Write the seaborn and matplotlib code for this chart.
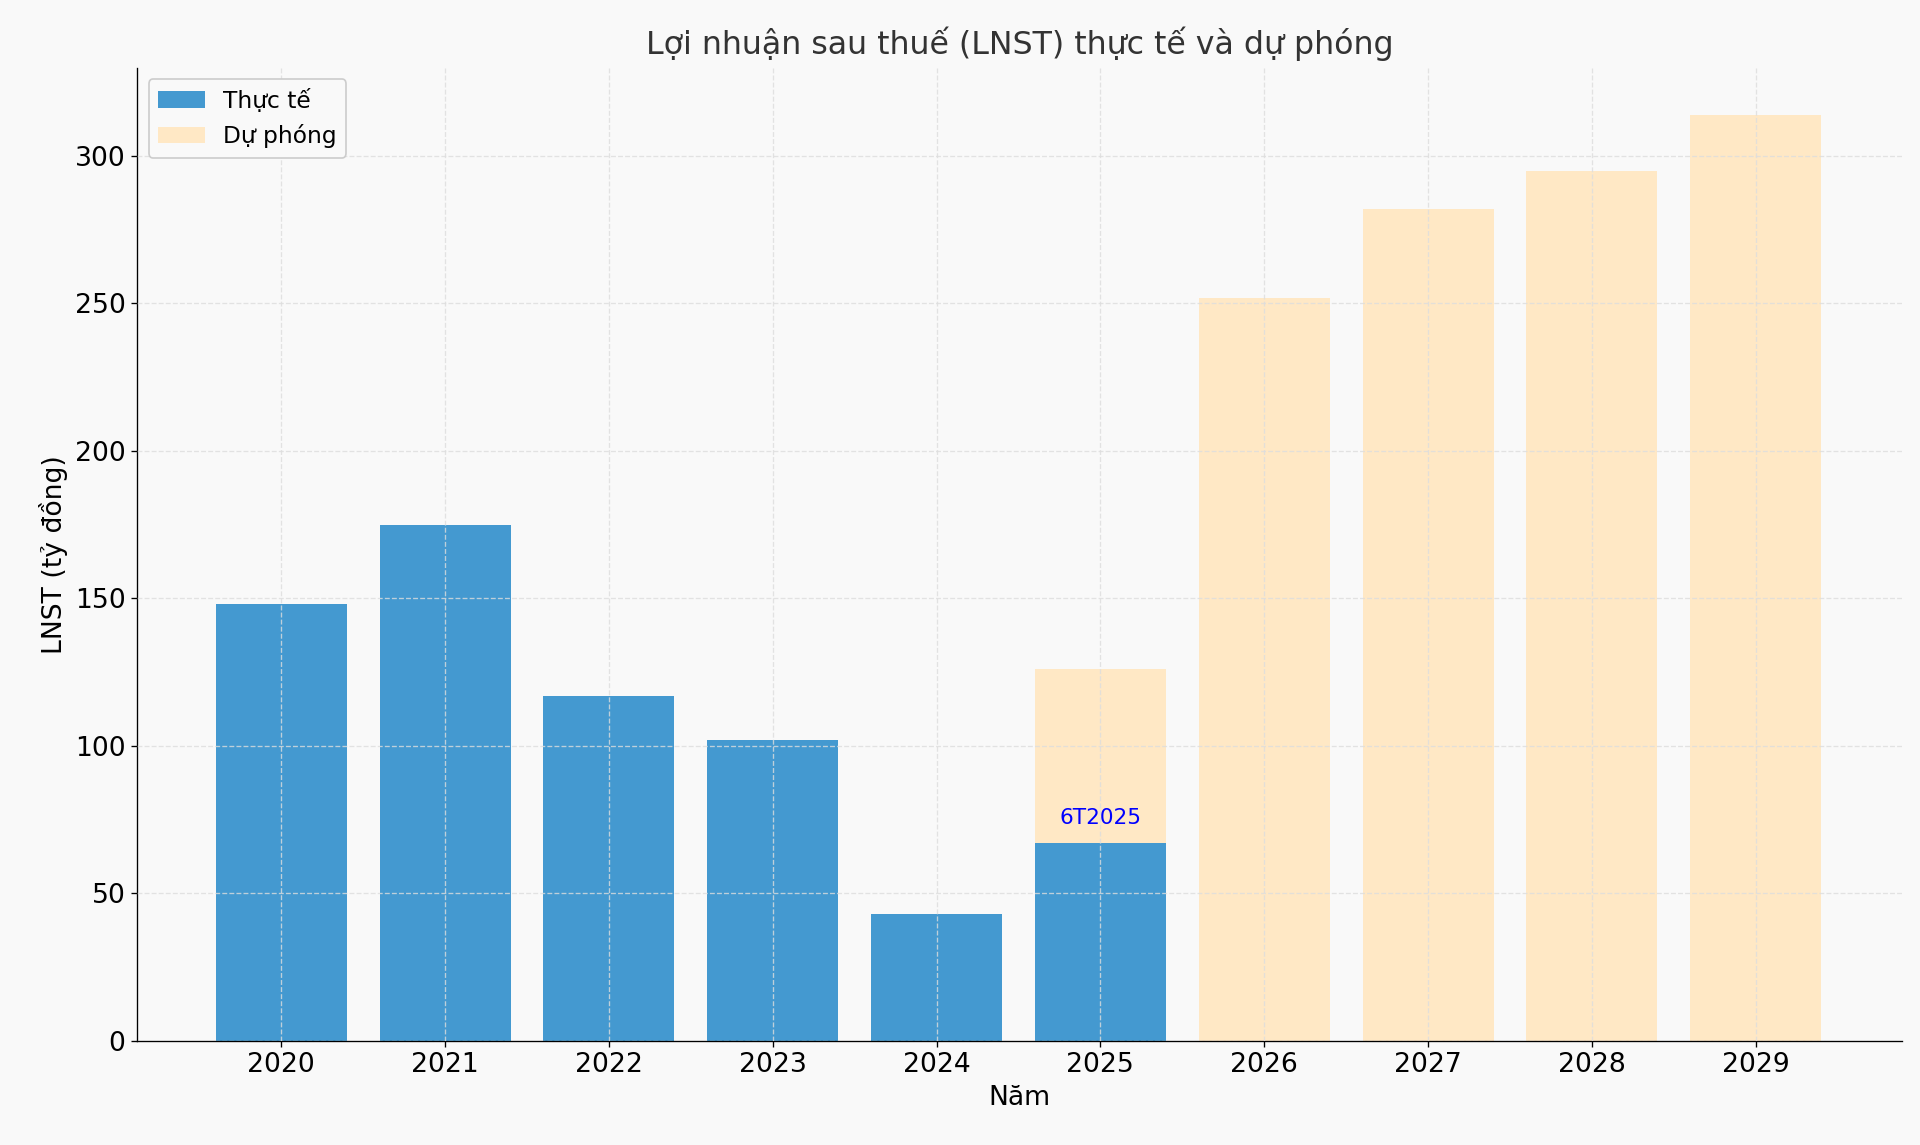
import pandas as pd
import matplotlib
matplotlib.use("Agg")
import matplotlib.pyplot as plt
import seaborn as sns

# ── Data ─────────────────────────────────────────────────────────────────────
YEARS       = ["2020", "2021", "2022", "2023", "2024", "2025", "2026", "2027", "2028", "2029"]
ACTUAL_YRS  = ["2020", "2021", "2022", "2023", "2024", "2025"]
ACTUAL      = [148, 175, 117, 102, 43, 67]
FORECAST_YRS = ["2025", "2026", "2027", "2028", "2029"]
FORECAST    = [126, 252, 282, 295, 314]

BG = "#f9f9f9"
BLUE = "#4499d0"
PEACH = "#ffe8c5"

plt.rcParams["font.family"] = "DejaVu Sans"
fig = plt.figure(figsize=(16, 9.5417), dpi=120, facecolor=BG)
ax = fig.add_axes([0.0714, 0.091, 0.9190, 0.850], facecolor=BG)

df_f = pd.DataFrame({"year": FORECAST_YRS, "val": FORECAST})
df_a = pd.DataFrame({"year": ACTUAL_YRS, "val": ACTUAL})
sns.barplot(data=df_f, x="year", y="val", order=YEARS, color=PEACH, saturation=1,
            width=0.8, ax=ax, label="Dự phóng")
sns.barplot(data=df_a, x="year", y="val", order=YEARS, color=BLUE, saturation=1,
            width=0.8, ax=ax, label="Thực tế")

ax.text(5, ACTUAL[5] + 5, "6T2025", color="blue", ha="center", va="bottom", fontsize=13)

ax.set_axisbelow(False)
ax.grid(True, linestyle="--", color="#dddddd", linewidth=0.8, alpha=0.8)
ax.set_xlim(-0.88, 9.89)
ax.set_ylim(0, 330)
ax.set_yticks([0, 50, 100, 150, 200, 250, 300])
for s in ["top", "right"]:
    ax.spines[s].set_visible(False)
ax.tick_params(labelsize=16)
ax.set_title("Lợi nhuận sau thuế (LNST) thực tế và dự phóng", fontsize=19, color="#333333", pad=8)
ax.set_xlabel("Năm", fontsize=16)
ax.set_ylabel("LNST (tỷ đồng)", fontsize=16)

h, l = ax.get_legend_handles_labels()
ax.legend(h[::-1], l[::-1], loc="upper left", fontsize=14, facecolor=BG, framealpha=1)

fig.savefig("out.png", dpi=120, facecolor=BG)
